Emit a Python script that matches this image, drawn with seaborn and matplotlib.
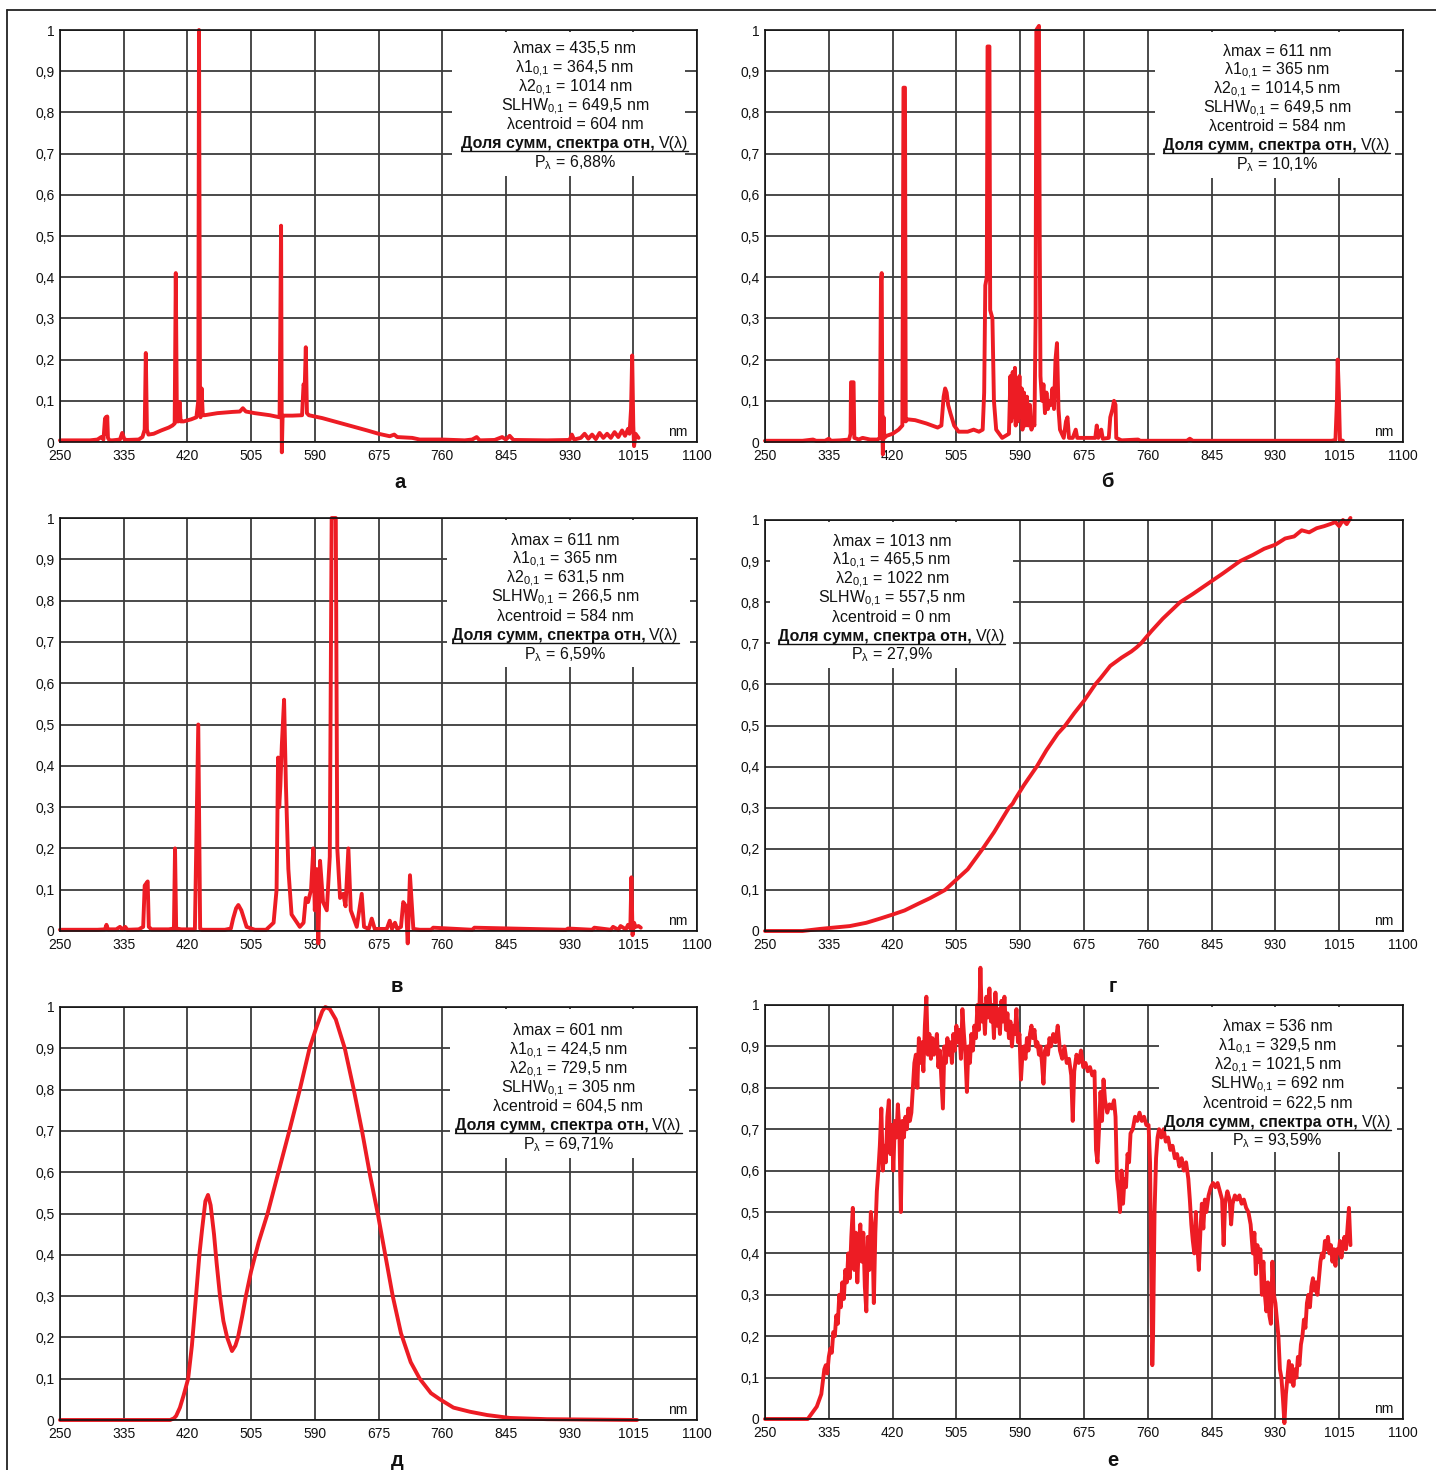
# Спектры источников излучения (а-е), относительные единицы
import numpy as np
import pandas as pd
import seaborn as sns
import matplotlib.pyplot as plt
from matplotlib.lines import Line2D
from matplotlib.patches import Rectangle

sns.set_style('white')
plt.rcParams['font.family'] = ['Liberation Sans', 'DejaVu Sans']
plt.rcParams['mathtext.fontset'] = 'custom'
plt.rcParams['mathtext.rm'] = 'Liberation Sans'
plt.rcParams['mathtext.it'] = 'Liberation Sans:italic'
plt.rcParams['mathtext.bf'] = 'Liberation Sans:bold'

# ---------------- данные ----------------
x_ticks = [250, 335, 420, 505, 590, 675, 760, 845, 930, 1015, 1100]
y_ticks = [0, 0.1, 0.2, 0.3, 0.4, 0.5, 0.6, 0.7, 0.8, 0.9, 1]
y_labels = ['0', '0,1', '0,2', '0,3', '0,4', '0,5', '0,6', '0,7', '0,8', '0,9', '1']
panel_names = ['а', 'б', 'в', 'г', 'д', 'е']

# а
wl_a = [250, 290, 300, 305, 308, 310, 311, 312, 313, 314, 316, 320, 330, 333, 336, 340, 355, 360, 363,
        364.5, 366, 368, 375, 385, 395, 400, 403, 404.5, 406, 408, 409.5, 411, 412, 415, 425, 432, 434.5,
        435.5, 436.8, 437.5, 439, 440.5, 443, 460, 480, 490, 494, 498, 510, 530, 543, 545, 546, 547, 549,
        560, 573, 575, 576.5, 578, 579.5, 582, 600, 620, 640, 660, 675, 690, 696, 700, 720, 730, 760, 790,
        800, 806, 810, 830, 840, 845, 850, 855, 900, 930, 933, 936, 945, 950, 955, 960, 965, 970, 975, 980,
        985, 990, 995, 1000, 1004, 1008, 1010, 1012, 1013.5, 1015, 1016, 1018, 1022]
val_a = [0.004, 0.004, 0.006, 0.012, 0.006, 0.055, 0.06, 0.02, 0.062, 0.01, 0.004, 0.004, 0.006, 0.022,
         0.006, 0.005, 0.006, 0.012, 0.03, 0.216, 0.03, 0.018, 0.02, 0.028, 0.035, 0.04, 0.045, 0.41, 0.05,
         0.05, 0.097, 0.05, 0.05, 0.05, 0.055, 0.06, 0.1, 1.0, 0.12, 0.06, 0.13, 0.065, 0.065, 0.07, 0.073,
         0.074, 0.082, 0.074, 0.07, 0.065, 0.06, 0.525, -0.025, 0.06, 0.064, 0.064, 0.065, 0.14, 0.13, 0.23,
         0.07, 0.065, 0.058, 0.048, 0.038, 0.028, 0.02, 0.014, 0.018, 0.012, 0.01, 0.006, 0.006, 0.004,
         0.006, 0.012, 0.004, 0.005, 0.012, 0.006, 0.015, 0.005, 0.004, 0.005, 0.018, 0.006, 0.01, 0.02,
         0.008, 0.018, 0.007, 0.022, 0.01, 0.02, 0.01, 0.024, 0.012, 0.028, 0.015, 0.032, 0.02, 0.08, 0.21,
         0.04, -0.01, 0.02, 0.01]

# б
wl_b = [250, 300, 314, 318, 330, 335, 338, 350, 362, 364, 364.6, 368, 369, 375, 380, 390, 400, 403, 404.5,
        405.5, 406.5, 407, 408, 409, 412, 420, 428, 433, 434.5, 436.5, 437.5, 440, 450, 465, 480, 485, 488,
        490, 492, 494, 497, 502, 508, 520, 528, 535, 540, 542, 543.5, 545.5, 546.5, 549, 550, 553, 555, 558,
        566, 575, 577, 578, 580, 581, 583, 584, 586, 587, 589, 590.5, 592, 593, 595, 597, 599, 601, 603, 605,
        607, 609, 610.5, 611.5, 615, 616, 617, 619, 621, 623, 625, 627, 629, 631, 633, 635, 637, 639, 641,
        643, 648, 651, 653, 655, 660, 664, 666, 675, 690, 692, 694, 698, 700, 708, 710, 713, 715, 717, 718,
        725, 747, 750, 812, 816, 820, 1005, 1010, 1012, 1013, 1014.5, 1016, 1020]
val_b = [0.003, 0.003, 0.006, 0.003, 0.003, 0.008, 0.003, 0.004, 0.006, 0.02, 0.145, 0.145, 0.01, 0.006,
         0.01, 0.006, 0.006, 0.01, 0.39, 0.41, 0.015, -0.03, 0.06, 0.01, 0.015, 0.02, 0.03, 0.04, 0.86, 0.86,
         0.05, 0.055, 0.053, 0.045, 0.035, 0.04, 0.11, 0.13, 0.12, 0.09, 0.07, 0.04, 0.025, 0.025, 0.03,
         0.025, 0.03, 0.12, 0.38, 0.4, 0.96, 0.96, 0.32, 0.3, 0.1, 0.03, 0.01, 0.02, 0.16, 0.05, 0.17, 0.06,
         0.18, 0.04, 0.15, 0.05, 0.16, 0.06, 0.13, 0.03, 0.12, 0.04, 0.11, 0.04, 0.09, 0.03, 0.05, 0.04, 0.3,
         1.0, 1.01, 0.5, 0.16, 0.1, 0.14, 0.07, 0.12, 0.08, 0.1, 0.09, 0.13, 0.08, 0.2, 0.24, 0.08, 0.03,
         0.01, 0.05, 0.06, 0.01, 0.01, 0.03, 0.01, 0.01, 0.01, 0.04, 0.01, 0.03, 0.008, 0.01, 0.06, 0.08, 0.1,
         0.09, 0.01, 0.004, 0.006, 0.003, 0.003, 0.008, 0.003, 0.003, 0.005, 0.1, 0.2, 0.12, 0.005, 0.003]

# в
wl_c = [250, 300, 310, 312, 314, 325, 330, 333, 337, 340, 355, 361, 363, 367, 368.5, 372, 395, 402,
        403.5, 405, 412, 430, 434.5, 437, 439, 470, 478, 481, 485, 488, 492, 499, 510, 525, 535, 539, 541,
        542.5, 544, 546, 549, 551.5, 554.7, 559, 570, 575, 578, 581, 585, 588, 590, 592.5, 594.7, 597, 601,
        606, 610, 612.5, 618, 620, 623.7, 628, 631, 634.8, 638, 646, 652.6, 655.7, 662, 666, 670, 686, 690,
        693, 697, 700, 705, 708, 711.7, 714, 717, 721.5, 730, 745, 748, 800, 803, 925, 928, 960, 963, 985,
        988, 995, 998, 1005, 1008, 1011, 1012.5, 1014, 1016, 1018, 1022, 1025]
val_c = [0.003, 0.003, 0.004, 0.015, 0.004, 0.004, 0.01, 0.004, 0.01, 0.003, 0.004, 0.01, 0.11, 0.12,
         0.01, 0.004, 0.004, 0.006, 0.2, 0.006, 0.004, 0.004, 0.5, 0.006, 0.003, 0.003, 0.006, 0.03, 0.055,
         0.063, 0.05, 0.01, 0.003, 0.003, 0.02, 0.1, 0.42, 0.3, 0.35, 0.45, 0.56, 0.35, 0.15, 0.04, 0.01,
         0.02, 0.08, 0.07, 0.1, 0.2, 0.05, 0.15, -0.03, 0.17, 0.07, 0.05, 0.18, 1.0, 1.0, 0.2, 0.08, 0.09,
         0.06, 0.2, 0.05, 0.01, 0.09, 0.01, 0.005, 0.03, 0.005, 0.005, 0.025, 0.005, 0.02, 0.005, 0.01, 0.07,
         0.06, -0.03, 0.135, 0.005, 0.003, 0.003, 0.008, 0.003, 0.008, 0.003, 0.006, 0.003, 0.008, 0.003,
         0.01, 0.003, 0.012, 0.004, 0.015, 0.006, 0.13, -0.01, 0.02, 0.01, 0.012, 0.008]

# г
wl_d = [250, 300, 323, 340, 363, 385, 403, 420, 436, 455, 470, 490, 505, 520, 540, 555, 575, 580, 583,
        595, 612, 625, 640, 650, 662, 675, 690, 697, 710, 725, 738, 745, 751, 765, 780, 803, 820, 840, 860,
        883, 900, 915, 930, 943, 955, 965, 975, 985, 995, 1003, 1010, 1015, 1020, 1025, 1030]
val_d = [0.0, 0.0, 0.005, 0.008, 0.012, 0.02, 0.03, 0.04, 0.05, 0.067, 0.08, 0.1, 0.125, 0.15, 0.2, 0.24,
         0.3, 0.31, 0.32, 0.355, 0.4, 0.44, 0.48, 0.5, 0.53, 0.56, 0.6, 0.615, 0.645, 0.665, 0.68, 0.69,
         0.7, 0.73, 0.76, 0.8, 0.82, 0.845, 0.87, 0.9, 0.915, 0.93, 0.94, 0.955, 0.96, 0.975, 0.97, 0.98,
         0.985, 0.99, 0.995, 0.985, 1.0, 0.99, 1.005]

# д
wl_e = [250, 390, 397, 402, 405, 410, 415, 421, 426, 431.5, 436, 439.5, 444, 447.5, 451, 455.5, 459,
        463.5, 468, 473, 479.5, 484, 487.5, 493, 498, 505, 515, 527, 540, 556, 570, 583, 592, 600, 604,
        610, 618, 630, 642, 653, 664, 674, 684, 694, 705, 718, 730, 745, 757, 775, 797, 820, 850, 900, 1020]
val_e = [0.0, 0.0, 0.0, 0.004, 0.01, 0.03, 0.06, 0.1, 0.18, 0.3, 0.4, 0.46, 0.53, 0.545, 0.52, 0.45,
         0.38, 0.3, 0.24, 0.2, 0.167, 0.18, 0.2, 0.25, 0.3, 0.36, 0.43, 0.5, 0.59, 0.7, 0.8, 0.9, 0.95,
         0.99, 1.0, 0.995, 0.97, 0.9, 0.8, 0.7, 0.59, 0.5, 0.4, 0.3, 0.21, 0.14, 0.1, 0.065, 0.05, 0.03,
         0.02, 0.012, 0.005, 0.002, 0.0]

# е
wl_f = [250, 300, 307, 311, 315, 319, 322, 325, 327, 329, 331, 333, 335, 337, 339, 341, 343, 345, 347,
        349, 351, 353, 355, 357, 359, 361, 363, 365, 367, 369, 371, 373, 375, 377, 379, 381, 383, 385, 387,
        389, 391, 393, 395, 397, 399, 401, 403, 405, 407, 409, 411, 413, 415, 417, 419, 421, 423, 425, 427,
        429, 431, 433, 435, 437, 439, 441, 443, 445, 447, 449, 451, 453, 455, 457, 459, 461, 463, 465, 467,
        469, 471, 473, 475, 477, 479, 481, 483, 485, 487, 489, 491, 493, 495, 497, 499, 501, 503, 505, 507,
        509, 511, 513, 515, 517, 519, 521, 523, 525, 527, 529, 531, 533, 535, 537, 539, 541, 543, 545, 547,
        549, 551, 553, 555, 557, 559, 561, 563, 565, 567, 569, 571, 573, 575, 577, 579, 581, 583, 585, 587,
        589, 591, 593, 595, 597, 599, 601, 603, 605, 607, 609, 611, 613, 615, 617, 619, 621, 623, 625, 627,
        629, 631, 634, 637, 640, 643, 646, 649, 652, 655, 658, 660, 662, 665, 668, 671, 674, 677, 680, 683,
        686, 689, 691, 693, 695, 697, 699, 701, 703, 706, 709, 712, 715, 717, 719, 721, 723, 725, 727, 729,
        731, 733, 735, 737, 740, 743, 746, 749, 752, 755, 758, 761, 763, 765, 766, 767, 769, 771, 773, 775,
        778, 781, 784, 787, 790, 793, 796, 799, 802, 805, 808, 811, 814, 816, 818, 820, 822, 824, 826, 828,
        830, 832, 834, 836, 838, 841, 844, 847, 850, 853, 856, 859, 861, 863, 866, 869, 871, 873, 876, 879,
        882, 885, 888, 891, 894, 897, 900, 902, 904, 906, 908, 910, 912, 914, 916, 918, 920, 922, 924, 926,
        928, 930, 932, 934, 936, 938, 940, 942, 944, 946, 948, 950, 952, 954, 956, 958, 960, 962, 964, 966,
        968, 970, 972, 974, 976, 978, 980, 982, 984, 986, 988, 990, 992, 994, 996, 998, 1000, 1002, 1004,
        1006, 1008, 1010, 1012, 1014, 1016, 1018, 1020, 1022, 1024, 1026, 1028, 1030]
val_f = [0, 0, 0, 0.01, 0.02, 0.03, 0.045, 0.06, 0.09, 0.12, 0.13, 0.11, 0.15, 0.17, 0.16, 0.21, 0.2, 0.25,
         0.23, 0.3, 0.27, 0.33, 0.29, 0.36, 0.33, 0.4, 0.34, 0.44, 0.51, 0.36, 0.45, 0.33, 0.42, 0.47, 0.38,
         0.45, 0.32, 0.26, 0.44, 0.36, 0.5, 0.46, 0.28, 0.45, 0.55, 0.6, 0.66, 0.75, 0.6, 0.66, 0.62, 0.73,
         0.77, 0.64, 0.71, 0.6, 0.72, 0.68, 0.76, 0.7, 0.5, 0.72, 0.68, 0.73, 0.7, 0.75, 0.72, 0.74, 0.8,
         0.86, 0.88, 0.8, 0.92, 0.86, 0.91, 0.84, 0.95, 1.02, 0.88, 0.93, 0.87, 0.92, 0.88, 0.9, 0.93, 0.85,
         0.89, 0.82, 0.75, 0.9, 0.86, 0.92, 0.88, 0.91, 0.86, 0.93, 0.89, 0.95, 0.91, 0.94, 0.87, 0.99, 0.93,
         0.88, 0.79, 0.9, 0.86, 0.93, 0.89, 0.95, 0.92, 1.0, 0.94, 1.09, 0.96, 1.0, 0.93, 1.02, 0.97, 1.04,
         0.96, 1.0, 0.92, 1.03, 0.95, 0.99, 0.93, 1.01, 0.96, 1.02, 0.94, 0.98, 0.92, 0.96, 0.9, 0.95, 0.93,
         0.99, 0.91, 0.93, 0.82, 0.88, 0.9, 0.87, 0.92, 0.89, 0.93, 0.95, 0.92, 0.94, 0.9, 0.91, 0.88, 0.9,
         0.86, 0.81, 0.89, 0.9, 0.88, 0.92, 0.9, 0.93, 0.91, 0.95, 0.89, 0.87, 0.9, 0.86, 0.87, 0.83, 0.72,
         0.84, 0.88, 0.86, 0.89, 0.85, 0.86, 0.84, 0.85, 0.83, 0.84, 0.65, 0.62, 0.7, 0.79, 0.72, 0.82,
         0.77, 0.74, 0.76, 0.75, 0.77, 0.73, 0.58, 0.55, 0.5, 0.6, 0.52, 0.58, 0.56, 0.64, 0.62, 0.69, 0.7,
         0.73, 0.72, 0.74, 0.72, 0.73, 0.71, 0.71, 0.62, 0.3, 0.13, 0.2, 0.5, 0.63, 0.68, 0.7, 0.68, 0.7,
         0.67, 0.68, 0.65, 0.66, 0.63, 0.64, 0.61, 0.63, 0.6, 0.62, 0.58, 0.53, 0.47, 0.43, 0.4, 0.5, 0.42,
         0.36, 0.45, 0.52, 0.46, 0.53, 0.5, 0.54, 0.56, 0.57, 0.56, 0.57, 0.55, 0.53, 0.42, 0.52, 0.55, 0.53,
         0.47, 0.52, 0.54, 0.53, 0.54, 0.52, 0.53, 0.51, 0.5, 0.47, 0.4, 0.45, 0.35, 0.42, 0.38, 0.41, 0.3,
         0.38, 0.3, 0.26, 0.33, 0.25, 0.23, 0.38, 0.3, 0.28, 0.24, 0.2, 0.12, 0.1, 0.05, -0.01, 0.06, 0.1,
         0.14, 0.09, 0.13, 0.08, 0.12, 0.1, 0.15, 0.13, 0.18, 0.2, 0.24, 0.22, 0.28, 0.3, 0.27, 0.32, 0.34,
         0.31, 0.33, 0.3, 0.34, 0.38, 0.4, 0.39, 0.43, 0.41, 0.44, 0.4, 0.42, 0.38, 0.41, 0.37, 0.41, 0.4,
         0.43, 0.39, 0.42, 0.44, 0.41, 0.46, 0.51, 0.42]

spectra = [(wl_a, val_a), (wl_b, val_b), (wl_c, val_c), (wl_d, val_d), (wl_e, val_e), (wl_f, val_f)]

# параметры спектров (подписи в рамке)
lam_max = ['435,5', '611', '611', '1013', '601', '536']
lam1 = ['364,5', '365', '365', '465,5', '424,5', '329,5']
lam2 = ['1014', '1014,5', '631,5', '1022', '729,5', '1021,5']
slhw = ['649,5', '649,5', '266,5', '557,5', '305', '692']
centroid = ['604', '584', '584', '0', '604,5', '622,5']
p_lam = ['6,88', '10,1', '6,59', '27,9', '69,71', '93,59']

# ---------------- раскладка ----------------
W, H = 1436, 1470
RED = '#ED1C24'
# (лево, право, верх, низ) в пикселях
axes_px = [(60, 697, 30, 442), (765, 1403, 30, 442),
           (60, 697, 518, 931), (765, 1403, 520, 931),
           (60, 697, 1007, 1420), (765, 1403, 1005, 1419)]
letter_px = [(400, 483), (1107, 481), (397, 987), (1113, 987), (397, 1460), (1113, 1460)]
# центр текста (нм), первая строка, белая рамка (x0, x1, y0)
text_xc = [937, 932, 924, 419, 928, 933]
text_y0 = [0.956, 0.951, 0.947, 0.949, 0.944, 0.949]
box_x = [(773, 1084), (770, 1089), (766, 1091), (257, 580), (770, 1089), (775, 1092)]
box_y0 = [0.645, 0.64, 0.64, 0.64, 0.635, 0.645]
FS = 11.5
SUB = r'$_{\mathregular{0{,}1}}$'

fig = plt.figure(figsize=(W / 100, H / 100), dpi=100)

# рамка страницы
fig.add_artist(Line2D([7 / W, 1], [1 - 10 / H, 1 - 10 / H], color='#222222', lw=1.3, transform=fig.transFigure))
fig.add_artist(Line2D([7 / W, 7 / W], [0, 1 - 10 / H], color='#222222', lw=1.3, transform=fig.transFigure))

under = []
for i in range(6):
    l, r, t, b = axes_px[i]
    ax = fig.add_axes([l / W, 1 - b / H, (r - l) / W, (b - t) / H])
    wl, val = spectra[i]
    df = pd.DataFrame({'nm': wl, 'v': val})
    sns.lineplot(data=df, x='nm', y='v', ax=ax, color=RED, linewidth=2.8,
                 estimator=None, sort=False, zorder=2)
    ax.lines[-1].set_clip_on(False)

    ax.set_xlim(250, 1100)
    ax.set_ylim(0, 1)
    ax.set_xticks(x_ticks)
    ax.set_xticklabels([str(v) for v in x_ticks])
    ax.set_yticks(y_ticks)
    ax.set_yticklabels(y_labels)
    ax.set_xlabel('')
    ax.set_ylabel('')
    ax.tick_params(axis='both', length=0, labelsize=10, colors='#111111')
    ax.tick_params(axis='x', pad=5)
    ax.tick_params(axis='y', pad=4)
    ax.grid(True, color='#3c3c3c', lw=1.3)
    ax.set_axisbelow(True)
    for s in ax.spines.values():
        s.set_visible(True)
        s.set_color('#111111')
        s.set_linewidth(1.2)

    # белая подложка под текстом
    bx0, bx1 = box_x[i]
    ax.add_patch(Rectangle((bx0, box_y0[i]), bx1 - bx0, 0.995 - box_y0[i],
                           facecolor='white', edgecolor='none', zorder=1))

    xc = text_xc[i]
    y = text_y0[i] - 0.013
    dy = 0.046
    lines = ['λmax = ' + lam_max[i] + ' nm',
             'λ1' + SUB + ' = ' + lam1[i] + ' nm',
             'λ2' + SUB + ' = ' + lam2[i] + ' nm',
             'SLHW' + SUB + ' = ' + slhw[i] + ' nm',
             'λcentroid = ' + centroid[i] + ' nm']
    for k, s in enumerate(lines):
        ax.text(xc, y - k * dy, s, ha='center', va='baseline', fontsize=FS, color='#111111', zorder=3)
    yb = y - 5 * dy
    tb = ax.text(xc, yb, 'Доля сумм, спектра отн,', ha='left', va='baseline', fontsize=FS,
                 fontweight='bold', color='#111111', zorder=3)
    tn = ax.text(xc, yb, 'V(λ)', ha='left', va='baseline', fontsize=FS, color='#111111', zorder=3)
    ax.text(xc, y - 6 * dy, r'P$_{\mathregular{λ}}$ = ' + p_lam[i] + '%', ha='center', va='baseline',
            fontsize=FS, color='#111111', zorder=3)
    under.append((ax, tb, tn, xc, yb))

    ax.text(1074, 0.024, 'nm', ha='center', va='center', fontsize=10, color='#111111', zorder=3)

    lx, ly = letter_px[i]
    fig.text(lx / W, 1 - ly / H, panel_names[i], ha='center', va='center', fontsize=14.5,
             fontweight='bold', color='#111111')

# выравнивание строки "Доля сумм..." и подчеркивание
fig.canvas.draw()
rend = fig.canvas.get_renderer()
for ax, tb, tn, xc, yb in under:
    wb = tb.get_window_extent(rend).width
    wn = tn.get_window_extent(rend).width
    gap = 4
    xc_disp, yb_disp = ax.transData.transform((xc, yb))
    left = xc_disp - (wb + gap + wn) / 2
    inv = ax.transData.inverted()
    tb.set_x(inv.transform((left, yb_disp))[0])
    tn.set_x(inv.transform((left + wb + gap, yb_disp))[0])
    x0 = inv.transform((left, yb_disp))[0]
    x1 = inv.transform((left + wb + gap + wn, yb_disp))[0]
    yu = inv.transform((left, yb_disp - 3))[1]
    ax.plot([x0, x1], [yu, yu], color='#111111', lw=1.0, zorder=3)

fig.savefig('out.png', dpi=100)
